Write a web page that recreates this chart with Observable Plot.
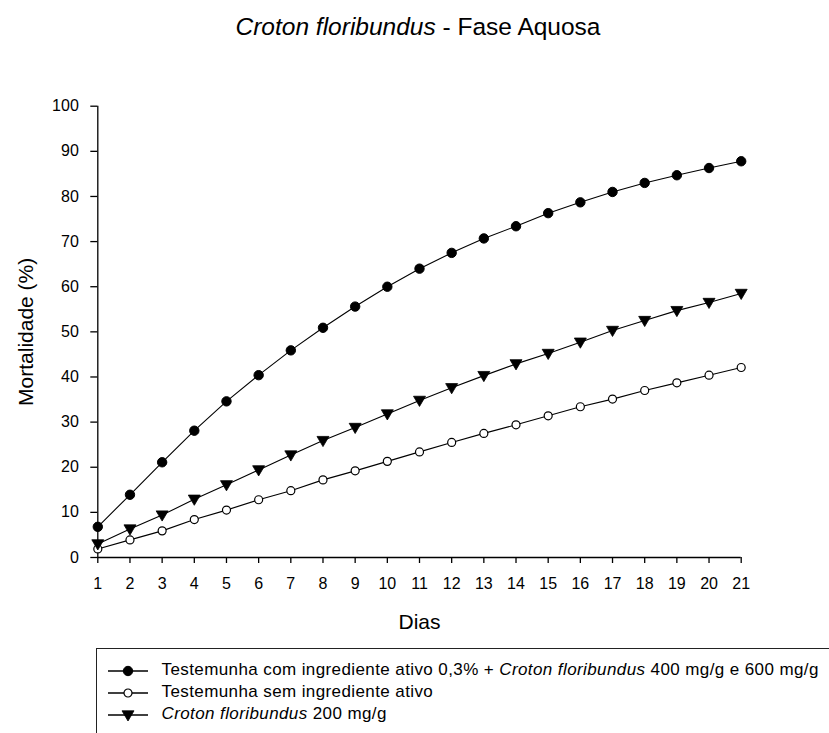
<!DOCTYPE html>
<html lang="pt">
<head>
<meta charset="utf-8">
<script src="https://cdn.jsdelivr.net/npm/d3@7"></script>
<script src="https://cdn.jsdelivr.net/npm/@observablehq/plot@0.6"></script>
<style>
  html, body { margin: 0; padding: 0; background: #fff; }
  #page { position: relative; width: 829px; height: 733px; overflow: hidden;
          font-family: "Liberation Sans", Arial, sans-serif; color: #000; background: #fff; }
  #titulo { position: absolute; top: 15px; left: 418px; transform: translateX(-50%);
            white-space: nowrap; font-size: 24.5px; line-height: 24.5px; }
  #grafico { position: absolute; left: 0; top: 60px; width: 829px; }
  #grafico [aria-label="x-axis label"], #grafico [aria-label="y-axis label"] { font-size: 21px; }
  #legenda { position: absolute; left: 95.5px; top: 648px; width: 760px; height: 120px;
             border: 1.5px solid #222; box-sizing: border-box; background: #fff; }
  .item-texto { position: absolute; left: 65px; white-space: nowrap;
                font-size: 17px; line-height: 17px; letter-spacing: 0.4px; }
  .item-icone { position: absolute; left: 10px; }
</style>
</head>
<body>
<div id="page">
  <div id="titulo"><i>Croton floribundus</i> - Fase Aquosa</div>
  <div id="grafico"></div>
  <div id="legenda"></div>
</div>
<script>
// Dias de avaliação e mortalidade acumulada (%) por tratamento
const dias = [1, 2, 3, 4, 5, 6, 7, 8, 9, 10, 11, 12, 13, 14, 15, 16, 17, 18, 19, 20, 21];
const mortalidadeComIngrediente = [6.8, 13.9, 21.1, 28.1, 34.6, 40.4, 45.9, 50.9, 55.6, 60.0, 64.0,
                                   67.5, 70.7, 73.4, 76.3, 78.7, 81.0, 83.0, 84.7, 86.3, 87.8];
const mortalidadeSemIngrediente = [1.9, 3.9, 5.9, 8.4, 10.5, 12.8, 14.8, 17.2, 19.2, 21.3, 23.4,
                                   25.5, 27.5, 29.4, 31.4, 33.4, 35.1, 37.0, 38.7, 40.4, 42.1];
const mortalidadeCroton200 = [3.0, 6.3, 9.4, 12.9, 16.1, 19.4, 22.7, 25.9, 28.8, 31.8, 34.8,
                              37.6, 40.3, 42.9, 45.2, 47.7, 50.3, 52.5, 54.7, 56.5, 58.5];
const ticksMortalidade = [0, 10, 20, 30, 40, 50, 60, 70, 80, 90, 100];

// Rótulos da legenda (partes em itálico marcadas com i: true)
const rotuloComIngrediente = [
  {t: "Testemunha com ingrediente ativo 0,3% + "}, {t: "Croton floribundus", i: true}, {t: " 400 mg/g e 600 mg/g"}
];
const rotuloSemIngrediente = [{t: "Testemunha sem ingrediente ativo"}];
const rotuloCroton200 = [{t: "Croton floribundus", i: true}, {t: " 200 mg/g"}];

// Triângulo com a ponta para baixo
const trianguloInvertido = {
  draw(ctx, size) {
    const r = Math.sqrt(size / Math.PI);
    ctx.moveTo(-r, -0.7 * r);
    ctx.lineTo(r, -0.7 * r);
    ctx.lineTo(0, r);
    ctx.closePath();
  }
};

const tratamentos = [
  {chave: "com", valores: mortalidadeComIngrediente, rotulo: rotuloComIngrediente,
   estilo: {symbol: "circle", r: 4.7, fill: "black", stroke: "black", strokeWidth: 1}},
  {chave: "sem", valores: mortalidadeSemIngrediente, rotulo: rotuloSemIngrediente,
   estilo: {symbol: "circle", r: 4, fill: "white", stroke: "black", strokeWidth: 1.2}},
  {chave: "c200", valores: mortalidadeCroton200, rotulo: rotuloCroton200,
   estilo: {symbol: trianguloInvertido, r: 6, fill: "black", stroke: "black", strokeWidth: 0.8}}
];

const registros = tratamentos.flatMap(s =>
  s.valores.map((v, k) => ({dia: dias[k], mortalidade: v, tratamento: s.chave})));

const grafico = Plot.plot({
  width: 829,
  height: 585,
  marginTop: 45.7,
  marginBottom: 88,
  marginLeft: 97.3,
  marginRight: 88.3,
  style: {fontFamily: "'Liberation Sans', Arial, sans-serif", fontSize: "16px", color: "black", background: "white", overflow: "visible"},
  x: {domain: [1, 21], inset: 0},
  y: {domain: [0, 100], inset: 0},
  marks: [
    Plot.axisY({ticks: ticksMortalidade, tickSize: 7, tickPadding: 12, strokeWidth: 1.3,
                label: "Mortalidade (%)", labelAnchor: "center", labelOffset: 80, labelArrow: "none"}),
    Plot.axisX({ticks: dias, tickSize: 6, tickPadding: 14, strokeWidth: 1.3, tickFormat: d => String(d),
                label: "Dias", labelAnchor: "center", labelOffset: 71, labelArrow: "none"}),
    Plot.ruleY([0], {stroke: "black", strokeWidth: 1.3}),
    Plot.ruleX([1], {stroke: "black", strokeWidth: 1.3}),
    Plot.line(registros, {x: "dia", y: "mortalidade", z: "tratamento", stroke: "black", strokeWidth: 1.1}),
    ...tratamentos.map(s =>
      Plot.dot(registros.filter(d => d.tratamento === s.chave), {x: "dia", y: "mortalidade", ...s.estilo}))
  ]
});
document.getElementById("grafico").appendChild(grafico);

// Legenda: linha com marcador + texto
const legenda = d3.select("#legenda");
const baselines = [26.5, 48.5, 70.5];
tratamentos.forEach((s, k) => {
  const base = baselines[k];
  const icone = legenda.append("svg").attr("class", "item-icone")
    .attr("width", 42).attr("height", 16)
    .style("top", (base - 4.5 - 8) + "px");
  icone.append("line").attr("x1", 1).attr("x2", 41).attr("y1", 8).attr("y2", 8)
    .attr("stroke", "black").attr("stroke-width", 1.3);
  const e = s.estilo;
  const sym = d3.symbol(e.symbol === "circle" ? d3.symbolCircle : e.symbol, e.r * e.r * Math.PI);
  icone.append("path").attr("d", sym()).attr("transform", "translate(21,8)")
    .attr("fill", e.fill).attr("stroke", e.stroke).attr("stroke-width", e.strokeWidth);
  const texto = legenda.append("div").attr("class", "item-texto")
    .style("top", (base - 14.4) + "px");
  s.rotulo.forEach(p => texto.append(p.i ? "i" : "span").text(p.t));
});
</script>
</body>
</html>
